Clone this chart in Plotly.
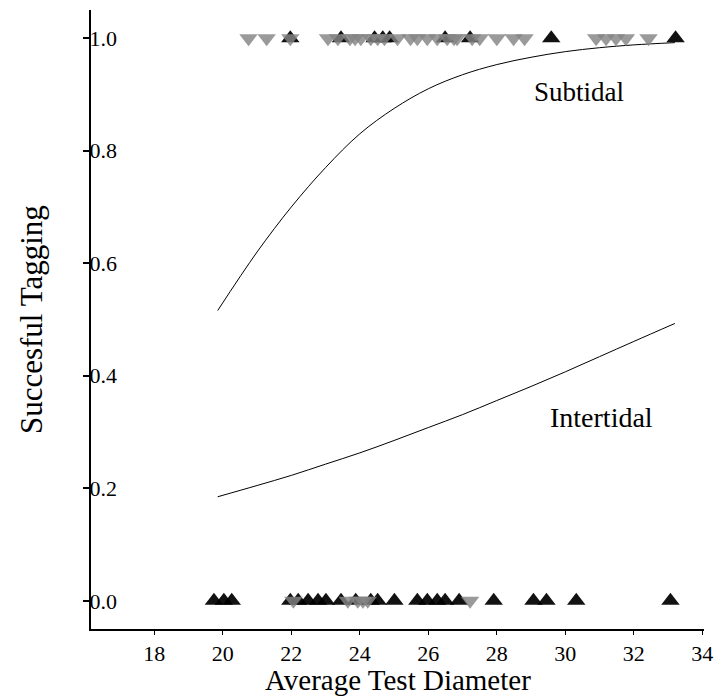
import plotly.graph_objects as go

# --- data ---
# black up-triangles (Intertidal)
inter_success_x = [21.97, 23.45, 24.43, 24.67, 24.87, 26.49, 27.22, 29.59, 33.22]
inter_fail_x = [19.74, 20.03, 20.26, 21.97, 22.2, 22.49, 22.78, 23.01, 23.45, 23.88,
                24.32, 24.52, 25.01, 25.68, 25.97, 26.26, 26.49, 26.9, 27.91, 29.07,
                29.45, 30.32, 33.07]
# gray down-triangles (Subtidal)
sub_success_x = [20.75, 21.28, 21.97, 23.07, 23.36, 23.71, 23.86, 24.03, 24.32, 24.52,
                 24.72, 25.1, 25.48, 25.68, 25.97, 26.26, 26.55, 26.75, 26.84, 27.28,
                 27.5, 28.0, 28.49, 28.81, 30.9, 31.19, 31.48, 31.77, 32.43]
sub_fail_x = [22.06, 23.65, 23.94, 24.09, 24.23, 27.22]

# fitted curves
curve_x = [19.85, 21, 22, 23, 24, 25, 26, 27, 28, 29, 30, 31, 32, 33.2]
sub_curve_y = [0.516, 0.62, 0.70, 0.77, 0.83, 0.875, 0.91, 0.935, 0.953, 0.966,
               0.976, 0.983, 0.988, 0.992]
inter_curve_y = [0.185, 0.205, 0.223, 0.243, 0.263, 0.285, 0.308, 0.331, 0.356,
                 0.381, 0.407, 0.434, 0.461, 0.493]

x_ticks = [18, 20, 22, 24, 26, 28, 30, 32, 34]
y_ticks = [0.0, 0.2, 0.4, 0.6, 0.8, 1.0]
y_tick_text = ["0.0", "0.2", "0.4", "0.6", "0.8", "1.0"]

FONT = "Liberation Serif"

fig = go.Figure()

fig.add_trace(go.Scatter(x=curve_x, y=sub_curve_y, mode="lines",
                         line=dict(color="black", width=1, shape="spline"),
                         showlegend=False, hoverinfo="skip"))
fig.add_trace(go.Scatter(x=curve_x, y=inter_curve_y, mode="lines",
                         line=dict(color="black", width=1, shape="spline"),
                         showlegend=False, hoverinfo="skip"))

black_marker = dict(symbol="triangle-up", size=16, color="rgba(0,0,0,0.93)",
                    line=dict(width=0))
gray_marker = dict(symbol="triangle-down", size=16, color="rgba(132,132,132,0.82)",
                   line=dict(width=0))

fig.add_trace(go.Scatter(x=inter_success_x, y=[1.0] * len(inter_success_x),
                         mode="markers", marker=black_marker, showlegend=False))
fig.add_trace(go.Scatter(x=inter_fail_x, y=[0.0] * len(inter_fail_x),
                         mode="markers", marker=black_marker, showlegend=False))
fig.add_trace(go.Scatter(x=sub_success_x, y=[1.0] * len(sub_success_x),
                         mode="markers", marker=gray_marker, showlegend=False))
fig.add_trace(go.Scatter(x=sub_fail_x, y=[0.0] * len(sub_fail_x),
                         mode="markers", marker=gray_marker, showlegend=False))

fig.add_annotation(x=30.4, y=0.905, text="Subtidal", showarrow=False,
                   font=dict(family=FONT, size=27, color="black"))
fig.add_annotation(x=31.05, y=0.325, text="Intertidal", showarrow=False,
                   font=dict(family=FONT, size=28, color="black"))

fig.add_annotation(xref="paper", yref="paper", x=-0.097, y=0.5,
                   text="Succesful Tagging", textangle=-90, showarrow=False,
                   xanchor="center", yanchor="middle",
                   font=dict(family=FONT, size=31, color="black"))
fig.add_annotation(xref="paper", yref="paper", x=0.5, y=-0.1115,
                   text="Average Test Diameter", showarrow=False,
                   xanchor="center", yanchor="bottom",
                   font=dict(family=FONT, size=29, color="black"))

fig.update_layout(
    width=723, height=700,
    margin=dict(l=91, r=14, t=10, b=71),
    paper_bgcolor="white", plot_bgcolor="white",
    font=dict(family=FONT, color="black", size=22),
    xaxis=dict(range=[16.15, 34.05], tickvals=x_ticks, ticks="outside", ticklen=4,
               tickwidth=1, tickcolor="black", showline=True, linecolor="black",
               linewidth=2, showgrid=False, zeroline=False,
               tickfont=dict(family=FONT, size=22, color="black")),
    yaxis=dict(range=[-0.05, 1.05], tickvals=y_ticks, ticktext=y_tick_text,
               ticks="outside", ticklen=6, tickwidth=2, tickcolor="black",
               ticklabelposition="inside", showline=True, linecolor="black",
               linewidth=2, showgrid=False, zeroline=False,
               tickfont=dict(family=FONT, size=22, color="black")),
)

fig.write_html("out.html")
